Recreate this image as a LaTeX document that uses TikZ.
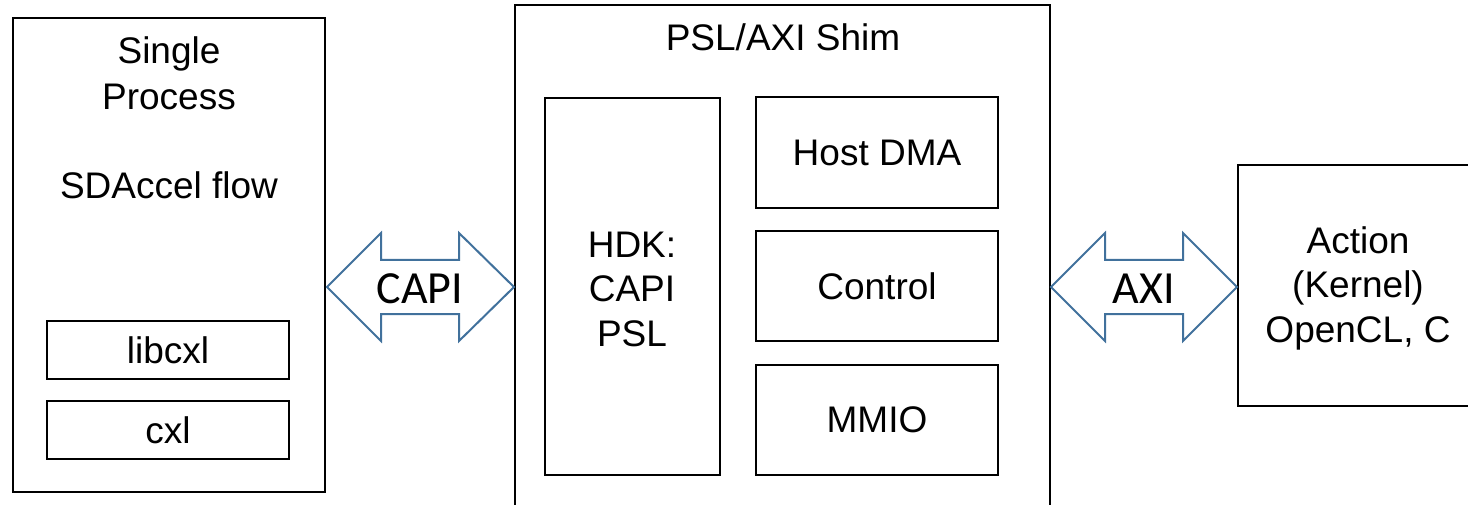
\documentclass[tikz,border=0pt]{standalone}
\usepackage{fontspec}
\setmainfont{Liberation Sans}
\newfontfamily\calfont{Carlito}
\definecolor{arrowblue}{HTML}{41719C}
\begin{document}
\begin{tikzpicture}[x=1pt,y=-1pt,
  box/.style={draw=black,line width=1.6pt,fill=white},
  lbl/.style={font=\fontsize{37}{44.5}\selectfont,align=center,inner sep=0pt},
  arrlbl/.style={font=\calfont\fontsize{46}{50}\selectfont,inner sep=0pt},
  fatarrow/.style={draw=arrowblue,line width=2pt,line join=miter,fill=white}]
\useasboundingbox (0,0) rectangle (1468,505);
\clip (0,0) rectangle (1468,505);
% left process box
\draw[box] (13,18) rectangle (325,492);
\node[lbl,anchor=base] (single) at (169,64) {Single};
\node[lbl,anchor=base] (process) at (169,110) {Process};
\node[lbl,anchor=base] (sdaccel) at (169,199) {SDAccel flow};
\node[box,minimum width=242pt,minimum height=58pt,inner sep=0pt] (libcxl) at (168,350) {};
\node[lbl] at (libcxl) {libcxl};
\node[box,minimum width=242pt,minimum height=58pt,inner sep=0pt] (cxl) at (168,430) {};
\node[lbl] at (cxl) {cxl};
% shim
\draw[box] (515,5) rectangle (1050,520);
\node[lbl,anchor=base] (shim) at (783,51) {PSL/AXI Shim};
\node[box,minimum width=175pt,minimum height=377pt,inner sep=0pt] (hdk) at (632.5,286.5) {};
\node[lbl] at (632,289) {HDK:\\CAPI\\PSL};
\node[box,minimum width=242pt,minimum height=111pt,inner sep=0pt] (hostdma) at (877,152.5) {};
\node[lbl] at (hostdma) {Host DMA};
\node[box,minimum width=242pt,minimum height=110pt,inner sep=0pt] (control) at (877,286) {};
\node[lbl] at (control) {Control};
\node[box,minimum width=242pt,minimum height=110pt,inner sep=0pt] (mmio) at (877,420) {};
\node[lbl] at (mmio) {MMIO};
% action
\draw[box] (1238,165) rectangle (1480,406);
\node[lbl] (action) at (1358,288) {Action\\(Kernel)\\OpenCL, C};
% CAPI arrow
\draw[fatarrow] (327,287) -- (381,233) -- (381,260) -- (459,260) -- (459,233)
  -- (514,287) -- (459,341) -- (459,314) -- (381,314) -- (381,341) -- cycle;
\node[arrlbl] (capi) at (420,289) {CAPI};
% AXI arrow
\draw[fatarrow] (1051,287) -- (1105,233) -- (1105,260) -- (1183,260) -- (1183,233)
  -- (1237,287) -- (1183,341) -- (1183,314) -- (1105,314) -- (1105,341) -- cycle;
\node[arrlbl] (axi) at (1144,289) {AXI};
\end{tikzpicture}
\end{document}
